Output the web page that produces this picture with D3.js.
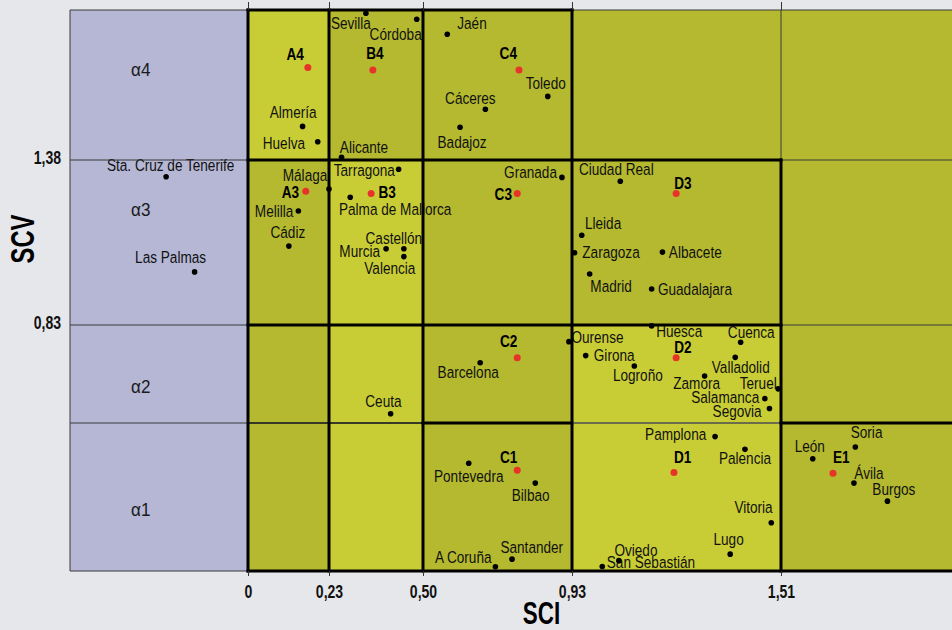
<!DOCTYPE html>
<html>
<head>
<meta charset="utf-8">
<script src="https://cdn.jsdelivr.net/npm/d3@7/dist/d3.min.js"></script>
<style>
  html, body { margin: 0; padding: 0; background: #e6e7eb; }
  svg { display: block; }
  text { font-family: "Liberation Sans", Arial, sans-serif; }
</style>
</head>
<body>
<svg id="chart" width="952" height="630"></svg>
<script>
// ---------- DATA ----------
const cities = ["Sevilla","Córdoba","Jaén","Almería","Huelva","Alicante","Badajoz","Cáceres","Toledo",
  "Sta. Cruz de Tenerife","Málaga","Tarragona","Palma de Mallorca","Melilla","Cádiz","Murcia","Castellón","Valencia",
  "Las Palmas","Granada","Ciudad Real","Lleida","Zaragoza","Albacete","Madrid","Guadalajara",
  "Barcelona","Ourense","Huesca","Girona","Logroño","Cuenca","Valladolid","Zamora","Teruel","Salamanca","Segovia","Ceuta",
  "Pamplona","Palencia","Pontevedra","Bilbao","Vitoria","Lugo","A Coruña","Santander","Oviedo","San Sebastián",
  "León","Soria","Ávila","Burgos"];
const sci = [0.336,0.482,0.570,0.155,0.198,0.266,0.607,0.680,0.860,
  -0.230,0.230,0.430,0.291,0.143,0.116,0.394,0.445,0.445,
  -0.150,0.901,1.064,0.957,0.937,1.181,0.979,1.151,
  0.665,0.921,1.151,0.968,1.103,1.398,1.383,1.298,1.502,1.465,1.478,0.407,
  1.327,1.410,0.632,0.824,1.483,1.369,0.709,0.757,1.060,1.014,
  1.601,1.723,1.719,1.815];
const scv = [1.869,1.849,1.799,1.492,1.441,1.389,1.489,1.549,1.592,
  1.324,1.283,1.349,1.256,1.210,1.093,1.084,1.084,1.058,
  1.007,1.322,1.309,1.129,1.071,1.073,1.000,0.950,
  0.703,0.774,0.827,0.727,0.692,0.772,0.721,0.658,0.615,0.582,0.549,0.531,
  0.454,0.411,0.364,0.297,0.163,0.057,0.014,0.040,0.035,0.015,
  0.379,0.419,0.297,0.236];

const centroids = ["A4","B4","C4","A3","B3","C3","D3","C2","D2","C1","D1","E1"];
const centroidSci = [0.170,0.356,0.777,0.164,0.351,0.772,1.219,0.772,1.219,0.772,1.213,1.659];
const centroidScv = [1.688,1.680,1.680,1.276,1.268,1.268,1.268,0.720,0.720,0.340,0.333,0.330];

const xTickValues = [0, 0.23, 0.50, 0.93, 1.51];
const xTickLabels = ["0", "0,23", "0,50", "0,93", "1,51"];
const yTickValues = [0.83, 1.38];
const yTickLabels = ["0,83", "1,38"];
const colBreaks = [0, 0.23, 0.50, 0.93, 1.51, 2.0];
const rowBreaks = [0, 0.50, 0.83, 1.38, 1.88];
const rowLabels = ["α1", "α2", "α3", "α4"];

// ---------- LAYOUT ----------
const W = 952, H = 630;
const NARROW = 0.8;
const x = d3.scaleLinear().domain([-0.5, 0, 0.23, 0.50, 0.93, 1.51, 2.0])
  .range([70, 248, 329, 423, 572, 781, 952]);
const y = d3.scaleLinear().domain([0, 0.50, 0.83, 1.38, 1.88])
  .range([571, 423, 325, 160, 10]);

const lightCells = [[0,3],[1,2],[1,1],[1,0],[3,1],[3,0]];
const rowLabelY = [0.186, 0.601, 1.193, 1.66];

const labelPos = {
  "Sevilla":["start",-35,16], "Córdoba":["end",5,21], "Jaén":["start",10,-5],
  "Almería":["middle",-9.4,-8], "Huelva":["end",-12.7,7.6], "Alicante":["start",-1.7,-4.6],
  "Cáceres":["middle",-15,-5], "Badajoz":["middle",2,21], "Toledo":["middle",-2,-7],
  "Sta. Cruz de Tenerife":["middle",4.5,-6], "Málaga":["end",-1.7,-8.3], "Tarragona":["end",-3.7,6.7],
  "Palma de Mallorca":["start",-11.3,17.7], "Melilla":["end",-5,5.7], "Cádiz":["middle",-1,-7.7],
  "Murcia":["end",-6,8], "Castellón":["middle",-10,-4.4], "Valencia":["middle",-14,17.3],
  "Las Palmas":["middle",-24,-8.7], "Granada":["end",-5,1], "Ciudad Real":["middle",-4,-6.3],
  "Lleida":["start",3.2,-6], "Zaragoza":["start",7.8,5.6], "Albacete":["start",6.4,6.3],
  "Madrid":["start",0.7,17.7], "Guadalajara":["start",6.3,6], "Barcelona":["middle",-12,15],
  "Ourense":["start",2.5,1.6], "Huesca":["start",4.5,10.7], "Girona":["start",8.1,5],
  "Logroño":["middle",3.5,14.7], "Cuenca":["middle",10.6,-4.3], "Valladolid":["middle",5.5,16],
  "Zamora":["middle",-8,13.3], "Teruel":["end",-1.4,0.6], "Salamanca":["end",-5.6,4.6],
  "Segovia":["end",-7.8,9], "Ceuta":["middle",-7.2,-6.4], "Pamplona":["end",-8.8,3.3],
  "Palencia":["middle",0,15], "Pontevedra":["middle",0,18.4], "Bilbao":["middle",-4.6,17.7],
  "Vitoria":["end",1.4,-9.4], "Lugo":["middle",-1.6,-9], "A Coruña":["end",-3.9,-3.7],
  "Santander":["start",-11.6,-6], "Oviedo":["start",-4.4,-4.7], "San Sebastián":["start",4.5,1.3],
  "León":["middle",-3,-7], "Soria":["start",-4.6,-8.7], "Ávila":["start",0.3,-3.7],
  "Burgos":["middle",6.4,-6]
};
const centroidPos = {
  "A4":["end",-4,-8], "B4":["middle",2,-11], "C4":["end",-2,-11],
  "A3":["end",-6.7,7], "B3":["start",7.3,4.6], "C3":["end",-5.3,6.3], "D3":["start",-2,-4.4],
  "C2":["end",0,-11], "D2":["start",-2,-4.4], "C1":["end",0,-7.6], "D1":["start",0,-9.6],
  "E1":["start",0,-10.6]
};

function narrowAt(sel, fx, fy, k = NARROW) {
  sel.attr("transform", (d, i) => `translate(${fx(d, i)},${fy(d, i)}) scale(${k},1)`);
}

const svg = d3.select("#chart");
svg.append("rect").attr("width", W).attr("height", H).attr("fill", "#e6e7eb");

svg.append("rect")
  .attr("x", x(-0.5)).attr("y", y(1.88))
  .attr("width", x(0) - x(-0.5)).attr("height", y(0) - y(1.88))
  .attr("fill", "#b5b7d5");

const isLight = (i, j) => lightCells.some(c => c[0] === i && c[1] === j);
const cells = [];
for (let i = 0; i < colBreaks.length - 1; i++)
  for (let j = 0; j < rowBreaks.length - 1; j++) cells.push({i, j});
svg.append("g").selectAll("rect").data(cells).join("rect")
  .attr("x", d => x(colBreaks[d.i]))
  .attr("y", d => y(rowBreaks[d.j + 1]))
  .attr("width", d => x(colBreaks[d.i + 1]) - x(colBreaks[d.i]))
  .attr("height", d => y(rowBreaks[d.j]) - y(rowBreaks[d.j + 1]))
  .attr("fill", d => isLight(d.i, d.j) ? "#c9cd35" : "#b4b92f");

svg.append("g").selectAll("text").data(rowLabels).join("text")
  .attr("font-size", 19).attr("fill", "#1a1a1a")
  .text(d => d)
  .call(narrowAt, () => 131, (d, k) => y(rowLabelY[k]), 0.9);

const pts = cities.map((c, k) => ({name: c, sx: sci[k], sv: scv[k]}));
svg.append("g").selectAll("text").data(pts).join("text")
  .attr("text-anchor", d => labelPos[d.name][0])
  .attr("font-size", 17).attr("fill", "#111")
  .text(d => d.name)
  .call(narrowAt, d => x(d.sx) + labelPos[d.name][1], d => y(d.sv) + labelPos[d.name][2]);

const thin = svg.append("g").attr("stroke", "#3a3a3a").attr("stroke-width", 1);
rowBreaks.forEach(v => thin.append("line")
  .attr("x1", x(-0.5)).attr("x2", W).attr("y1", y(v)).attr("y2", y(v)));
thin.append("line").attr("x1", x(-0.5)).attr("x2", x(-0.5)).attr("y1", y(0)).attr("y2", y(1.88));
colBreaks.slice(0, 5).forEach(v => thin.append("line")
  .attr("x1", x(v)).attr("x2", x(v)).attr("y1", y(0)).attr("y2", y(1.88)));

const segs = [
  ["h", 1.88, 0, 0.93, 3, "#000"],
  ["h", 1.38, 0, 1.51, 3, "#000"],
  ["h", 0.83, 0, 1.51, 3, "#000"],
  ["h", 0.50, 0, 0.50, 1.6, "#222"],
  ["h", 0.50, 0.50, 0.93, 3, "#000"],
  ["h", 0.50, 0.93, 1.51, 2, "#6b6d4a"],
  ["h", 0.50, 1.51, 2.0, 3, "#000"],
  ["h", 0, 0, 2.0, 3, "#000"],
  ["v", 0, 0, 1.88, 3, "#000"],
  ["v", 0.23, 0, 1.88, 3, "#000"],
  ["v", 0.50, 0, 1.88, 3, "#000"],
  ["v", 0.93, 0, 1.88, 3, "#000"],
  ["v", 1.51, 0, 1.38, 3, "#000"]
];
svg.append("g").selectAll("line").data(segs).join("line")
  .attr("x1", d => d[0] === "h" ? x(d[2]) : x(d[1]))
  .attr("x2", d => d[0] === "h" ? x(d[3]) : x(d[1]))
  .attr("y1", d => d[0] === "h" ? y(d[1]) : y(d[2]))
  .attr("y2", d => d[0] === "h" ? y(d[1]) : y(d[3]))
  .attr("stroke", d => d[5]).attr("stroke-width", d => d[4])
  .attr("stroke-linecap", "square");

const xAxis = svg.append("g").attr("transform", `translate(0,${y(0)})`)
  .call(d3.axisBottom(x).tickValues(xTickValues)
    .tickFormat((d, k) => xTickLabels[k]).tickSize(5).tickPadding(9));
xAxis.attr("font-family", null).attr("font-size", null);
xAxis.select(".domain").remove();
xAxis.selectAll("line").attr("stroke", "#333");
xAxis.selectAll("text").attr("font-size", 18).attr("font-weight", "bold")
  .attr("fill", "#111").attr("transform", `scale(0.78,1)`);

const xTop = svg.append("g").attr("transform", `translate(0,${y(1.88)})`)
  .call(d3.axisTop(x).tickValues(xTickValues).tickFormat("").tickSize(8));
xTop.select(".domain").remove();
xTop.selectAll("line").attr("stroke", "#333");

const yAxis = svg.append("g").attr("transform", `translate(${x(-0.5) - 9},0)`)
  .call(d3.axisLeft(y).tickValues(yTickValues)
    .tickFormat((d, k) => yTickLabels[k]).tickSize(0).tickPadding(0));
yAxis.attr("font-family", null).attr("font-size", null);
yAxis.select(".domain").remove();
yAxis.selectAll("text").attr("font-size", 18).attr("font-weight", "bold")
  .attr("fill", "#111").attr("dy", "0.2em").attr("transform", `scale(0.78,1)`);

svg.append("g").selectAll("circle").data(pts).join("circle")
  .attr("cx", d => x(d.sx)).attr("cy", d => y(d.sv)).attr("r", 2.8).attr("fill", "#000");

const cps = centroids.map((c, k) => ({name: c, sx: centroidSci[k], sv: centroidScv[k]}));
svg.append("g").selectAll("circle").data(cps).join("circle")
  .attr("cx", d => x(d.sx)).attr("cy", d => y(d.sv)).attr("r", 3.5).attr("fill", "#e8332a");
svg.append("g").selectAll("text").data(cps).join("text")
  .attr("text-anchor", d => centroidPos[d.name][0])
  .attr("font-size", 17).attr("font-weight", "bold").attr("fill", "#000")
  .text(d => d.name)
  .call(narrowAt, d => x(d.sx) + centroidPos[d.name][1], d => y(d.sv) + centroidPos[d.name][2]);

svg.append("text").attr("text-anchor", "middle").attr("font-size", 32).attr("font-weight", "bold")
  .attr("fill", "#000").text("SCI")
  .attr("transform", `translate(541.5,624) scale(0.7,1)`);
svg.append("text").attr("text-anchor", "middle").attr("font-size", 33).attr("font-weight", "bold")
  .attr("fill", "#000").text("SCV")
  .attr("transform", `translate(34,239) rotate(-90) scale(0.72,1)`);
</script>
</body>
</html>
